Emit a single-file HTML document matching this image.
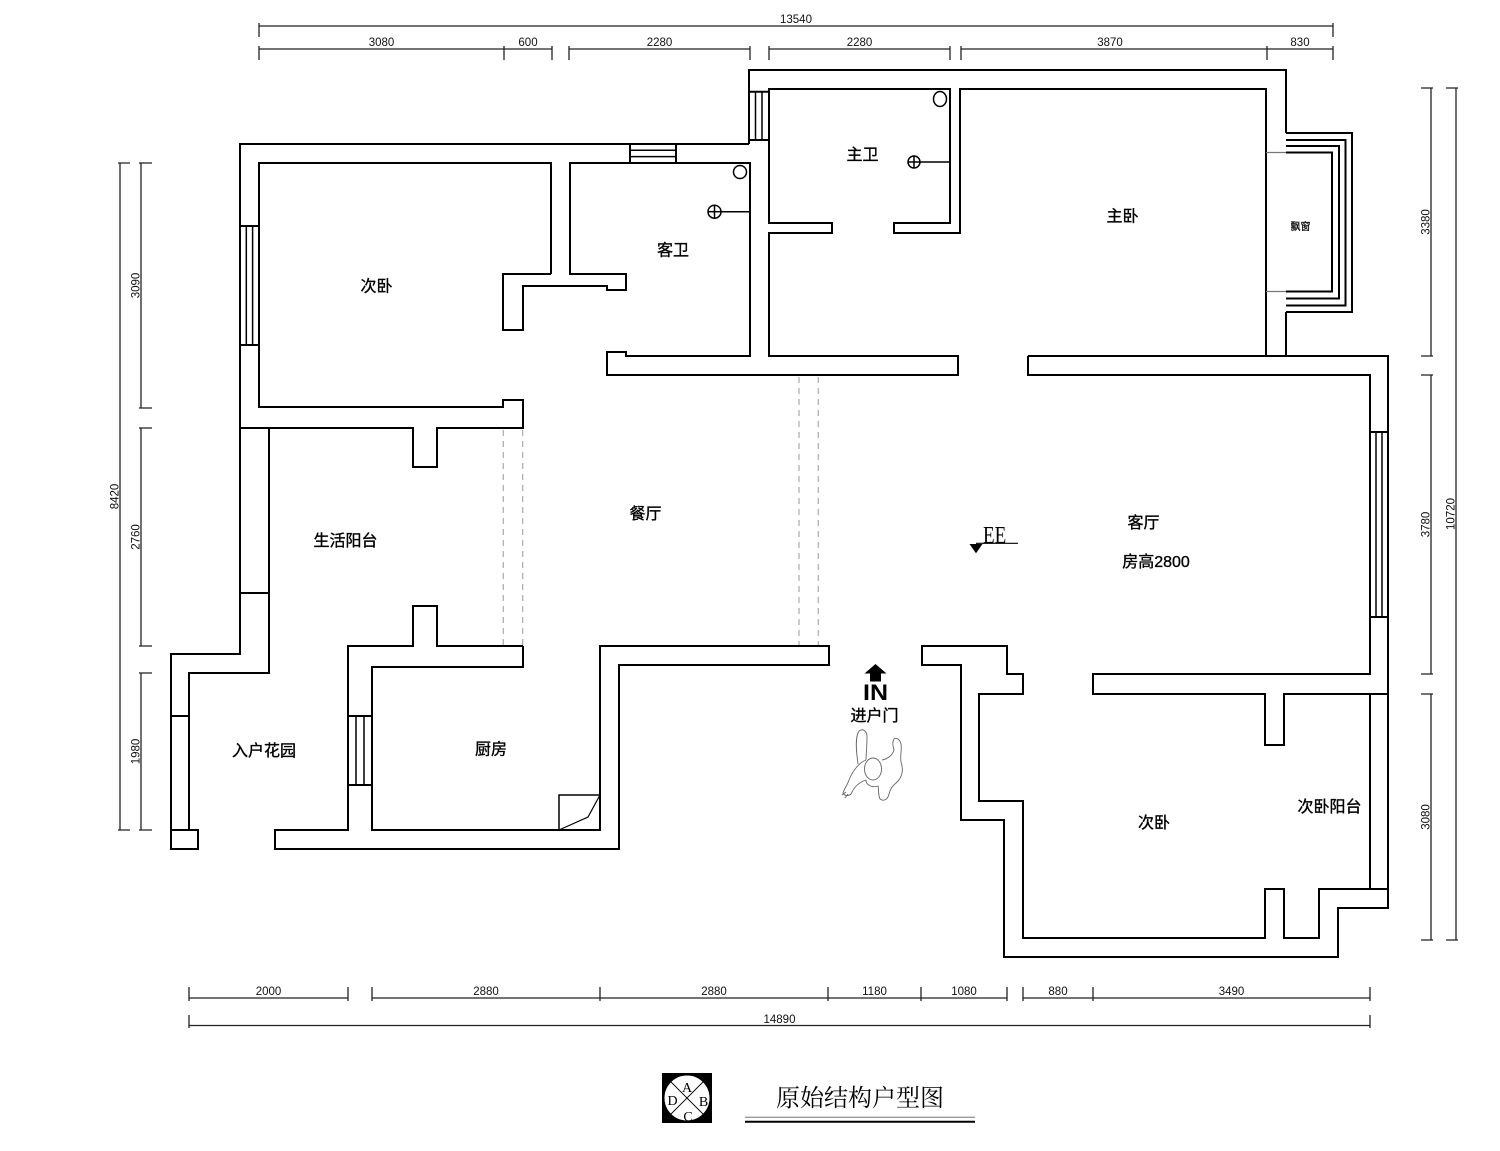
<!DOCTYPE html>
<html><head><meta charset="utf-8">
<style>
html,body{margin:0;padding:0;background:#fff;}
svg{display:block;}
.lbl{font-family:"Liberation Sans","Noto Sans CJK SC",sans-serif;font-size:16px;fill:#000;stroke:#000;stroke-width:0.35px;}
.dim{font-family:"Liberation Sans Narrow","Liberation Sans",sans-serif;font-size:11.5px;fill:#111;}
</style></head>
<body>
<svg width="1500" height="1151" viewBox="0 0 1500 1151" xmlns="http://www.w3.org/2000/svg">
<rect x="0" y="0" width="1500" height="1151" fill="#fff"/>

<!-- dashed openings -->
<g stroke="#aaa" stroke-width="1.2" stroke-dasharray="6,5" fill="none">
<line x1="503.3" y1="430" x2="503.3" y2="645"/>
<line x1="522.7" y1="430" x2="522.7" y2="645"/>
<line x1="799" y1="377" x2="799" y2="645"/>
<line x1="818.3" y1="377" x2="818.3" y2="645"/>
</g>

<!-- WALLS -->
<g fill="none" stroke="#000" stroke-width="2" stroke-linejoin="miter">
<polyline points="630,144 240,144 240,654 171,654 171,849 198,849 198,830 171,830"/>
<line x1="749" y1="144" x2="676" y2="144"/>
<rect x="630" y="144" width="46" height="19"/>
<line x1="630" y1="150.3" x2="676" y2="150.3" stroke-width="1.5"/>
<line x1="630" y1="156.6" x2="676" y2="156.6" stroke-width="1.5"/>
<polyline points="551,274 551,163 259,163 259,407 503,407 503,400 523,400 523,428 437,428 437,467 413,467 413,428 240,428"/>
<line x1="240" y1="226" x2="259" y2="226"/>
<line x1="240" y1="345" x2="259" y2="345"/>
<line x1="246.3" y1="226" x2="246.3" y2="345" stroke-width="1.5"/>
<line x1="252.6" y1="226" x2="252.6" y2="345" stroke-width="1.5"/>
<polyline points="551,274 503,274 503,330 523,330 523,286 607,286 607,290 626,290 626,274 570,274 570,163 630,163"/>
<polyline points="676,163 750,163 750,356 626,356 626,352 607,352 607,375 958,375 958,356 769,356 769,233 832,233 832,223 769,223 769,89 950,89 950,223 894,223 894,233 960,233 960,89 1266,89 1266,356"/>
<polyline points="749,144 749,70 1286,70 1286,133"/>
<line x1="1286" y1="312" x2="1286" y2="356"/>
<line x1="749" y1="91.7" x2="769" y2="91.7"/>
<line x1="749" y1="140" x2="769" y2="140"/>
<line x1="755.5" y1="91.7" x2="755.5" y2="140" stroke-width="1.5"/>
<line x1="762" y1="91.7" x2="762" y2="140" stroke-width="1.5"/>
<polyline points="1286,133 1352,133 1352,312 1286,312"/>
<polyline points="1286,140 1345.5,140 1345.5,305.5 1286,305.5"/>
<polyline points="1286,146 1339,146 1339,298.5 1286,298.5"/>
<polyline points="1286,152.5 1332,152.5 1332,291.5 1286,291.5"/>
<line x1="1266" y1="152.5" x2="1286" y2="152.5" stroke="#777" stroke-width="1.2"/>
<line x1="1266" y1="291.5" x2="1286" y2="291.5" stroke="#777" stroke-width="1.2"/>
<polyline points="1028,356 1388,356 1388,908 1338,908 1338,957 1004,957 1004,820 961,820 961,665 922,665 922,646 1007,646 1007,674 1023,674 1023,694 979,694 979,801 1023,801 1023,938 1265,938 1265,889 1284,889 1284,938 1319,938 1319,889 1388,889"/>
<polyline points="1028,356 1028,375 1370,375 1370,674 1093,674 1093,694 1265,694 1265,745 1284,745 1284,694 1388,694"/>
<line x1="1370" y1="694" x2="1370" y2="889"/>
<line x1="1370" y1="432" x2="1388" y2="432"/>
<line x1="1370" y1="617" x2="1388" y2="617"/>
<line x1="1376" y1="432" x2="1376" y2="617" stroke-width="1.5"/>
<line x1="1382" y1="432" x2="1382" y2="617" stroke-width="1.5"/>
<polyline points="269,428 269,673 189,673 189,830"/>
<line x1="240" y1="593" x2="269" y2="593"/>
<line x1="171" y1="716" x2="189" y2="716"/>
<polyline points="523,646 437,646 437,606 413,606 413,646 348,646 348,830 275,830 275,849 619,849 619,665 829,665 829,646 600,646 600,830 372,830 372,667 523,667 523,646"/>
<line x1="348" y1="716" x2="372" y2="716"/>
<line x1="348" y1="785" x2="372" y2="785"/>
<line x1="356" y1="716" x2="356" y2="785" stroke-width="1.5"/>
<line x1="364" y1="716" x2="364" y2="785" stroke-width="1.5"/>
<polyline points="559,830 559,795 600,795" stroke-width="1.5"/>
<polyline points="559,830 588,817 600,795" stroke-width="1.2"/>
</g>

<!-- fixtures -->
<g fill="none" stroke="#000" stroke-width="1.5">
<circle cx="740" cy="172" r="6.5"/>
<circle cx="714.5" cy="211.7" r="6.5"/>
<line x1="708" y1="211.7" x2="721" y2="211.7"/>
<line x1="714.5" y1="205.2" x2="714.5" y2="218.2"/>
<line x1="721" y1="211.7" x2="750" y2="211.7"/>
<ellipse cx="940" cy="99" rx="6.5" ry="7.5"/>
<circle cx="914" cy="162" r="6"/>
<line x1="908" y1="162" x2="920" y2="162"/>
<line x1="914" y1="156" x2="914" y2="168"/>
<line x1="920" y1="162" x2="950" y2="162"/>
</g>

<!-- EE marker -->
<line x1="976" y1="543.3" x2="1018" y2="543.3" stroke="#000" stroke-width="1.2"/>
<polygon points="969.5,544 982.5,544 976,553.3" fill="#000"/>
<text transform="translate(983,543) scale(1,1.28)" font-family="Liberation Serif,serif" font-size="19" fill="#000">EE</text>

<!-- IN arrow -->
<polygon points="875.5,664 886.5,673.5 881,673.5 881,681.5 870,681.5 870,673.5 864.5,673.5" fill="#000"/>
<text x="863" y="700" font-family="Liberation Sans,sans-serif" font-weight="bold" font-size="22" textLength="25" lengthAdjust="spacingAndGlyphs" fill="#000">IN</text>

<!-- person -->
<g fill="none" stroke="#666" stroke-width="0.9">
<path d="M858,764 C856,750 855,737 859,731 C863,728 867,731 867,737 C867,746 866,755 866,760"/>
<ellipse cx="873" cy="769" rx="8.5" ry="11"/>
<path d="M866,760 C860,762 853,770 849,780 C847,786 844,789 843,793 C845,797 851,796 852,792 C855,786 860,782 866,780"/>
<path d="M882,760 C887,759 892,756 894,750 C893,746 892,742 894,739 C897,737 900,740 901,744 C902,750 900,756 901,762 C904,770 902,778 896,783 C892,786 890,790 889,794 C888,799 884,802 880,799 C878,795 879,790 878,786 C872,788 866,785 866,780"/>
<path d="M846,792 L842,795 M848,794 L845,798"/>
</g>

<!-- room labels -->
<text class="lbl" x="376.5" y="291.5" text-anchor="middle">次卧</text>
<text class="lbl" x="673" y="255.5" text-anchor="middle">客卫</text>
<text class="lbl" x="862.5" y="160" text-anchor="middle">主卫</text>
<text class="lbl" x="1122.5" y="221.5" text-anchor="middle">主卧</text>
<text class="lbl" x="1300.5" y="230" text-anchor="middle" style="font-size:10px;stroke-width:0.2px">飘窗</text>
<text class="lbl" x="345.5" y="546" text-anchor="middle">生活阳台</text>
<text class="lbl" x="645.5" y="519" text-anchor="middle">餐厅</text>
<text class="lbl" x="1143.5" y="528" text-anchor="middle">客厅</text>
<text class="lbl" x="1156" y="567" text-anchor="middle">房高2800</text>
<text class="lbl" x="264" y="756" text-anchor="middle">入户花园</text>
<text class="lbl" x="491" y="754.5" text-anchor="middle">厨房</text>
<text class="lbl" x="1154" y="828" text-anchor="middle">次卧</text>
<text class="lbl" x="1329.5" y="812" text-anchor="middle">次卧阳台</text>
<text class="lbl" x="874.5" y="721" text-anchor="middle">进户门</text>

<!-- DIMENSIONS -->
<g stroke="#222" stroke-width="1.3" fill="none">
<line x1="259" y1="26" x2="1333" y2="26"/>
<line x1="259" y1="23" x2="259" y2="37"/>
<line x1="1333" y1="23" x2="1333" y2="37"/>
<line x1="259" y1="49" x2="552" y2="49"/>
<line x1="569" y1="49" x2="750" y2="49"/>
<line x1="769" y1="49" x2="950" y2="49"/>
<line x1="961" y1="49" x2="1333" y2="49"/>
<path d="M259,46V60 M504,46V60 M552,46V60 M569,46V60 M750,46V60 M769,46V60 M950,46V60 M961,46V60 M1267,46V60 M1333,46V60"/>
<line x1="189" y1="998" x2="348" y2="998"/>
<line x1="372" y1="998" x2="1007" y2="998"/>
<line x1="1023" y1="998" x2="1370" y2="998"/>
<path d="M189,987V1001 M348,987V1001 M372,987V1001 M600,987V1001 M828,987V1001 M921,987V1001 M1007,987V1001 M1023,987V1001 M1093,987V1001 M1370,987V1001"/>
<line x1="189" y1="1025.5" x2="1370" y2="1025.5"/>
<path d="M189,1015V1028 M1370,1015V1028"/>
<line x1="120" y1="163" x2="120" y2="830"/>
<path d="M118,163H130 M118,830H130"/>
<line x1="141" y1="163" x2="141" y2="408"/>
<line x1="141" y1="428" x2="141" y2="646"/>
<line x1="141" y1="673" x2="141" y2="830"/>
<path d="M139,163H152 M139,408H152 M139,428H152 M139,646H152 M139,673H152 M139,830H152"/>
<line x1="1431" y1="88" x2="1431" y2="356"/>
<line x1="1431" y1="375" x2="1431" y2="674"/>
<line x1="1431" y1="694" x2="1431" y2="940"/>
<path d="M1421,88H1433 M1421,356H1433 M1421,375H1433 M1421,674H1433 M1421,694H1433 M1421,940H1433"/>
<line x1="1456" y1="88" x2="1456" y2="940"/>
<path d="M1446,88H1458 M1446,940H1458"/>
</g>

<g class="dim" text-anchor="middle">
<text class="dim" x="796" y="23">13540</text>
<text class="dim" x="381.5" y="46">3080</text>
<text class="dim" x="528" y="46">600</text>
<text class="dim" x="659.5" y="46">2280</text>
<text class="dim" x="859.5" y="46">2280</text>
<text class="dim" x="1110" y="46">3870</text>
<text class="dim" x="1300" y="46">830</text>
<text class="dim" x="268.5" y="995">2000</text>
<text class="dim" x="486" y="995">2880</text>
<text class="dim" x="714" y="995">2880</text>
<text class="dim" x="874.5" y="995">1180</text>
<text class="dim" x="964" y="995">1080</text>
<text class="dim" x="1058" y="995">880</text>
<text class="dim" x="1231.5" y="995">3490</text>
<text class="dim" x="779.5" y="1023">14890</text>
<text class="dim" transform="translate(118.5,496.5) rotate(-90)">8420</text>
<text class="dim" transform="translate(139.5,285.5) rotate(-90)">3090</text>
<text class="dim" transform="translate(139.5,537) rotate(-90)">2760</text>
<text class="dim" transform="translate(139.5,751.5) rotate(-90)">1980</text>
<text class="dim" transform="translate(1429.5,222) rotate(-90)">3380</text>
<text class="dim" transform="translate(1429.5,524.5) rotate(-90)">3780</text>
<text class="dim" transform="translate(1429.5,817) rotate(-90)">3080</text>
<text class="dim" transform="translate(1454.5,514) rotate(-90)">10720</text>
</g>

<!-- TITLE BLOCK -->
<rect x="662" y="1073" width="50" height="50" fill="#000"/>
<circle cx="687" cy="1098" r="23" fill="#fff" stroke="#000" stroke-width="1"/>
<line x1="670.7" y1="1081.7" x2="703.3" y2="1114.3" stroke="#000" stroke-width="1"/>
<line x1="703.3" y1="1081.7" x2="670.7" y2="1114.3" stroke="#000" stroke-width="1"/>
<g font-family="Liberation Serif,serif" font-size="14" fill="#000" text-anchor="middle">
<text x="687" y="1092">A</text>
<text x="703.5" y="1106">B</text>
<text x="688" y="1121">C</text>
<text x="672.5" y="1105">D</text>
</g>
<text x="860" y="1106" text-anchor="middle" font-family="Liberation Serif,'Noto Serif CJK SC',serif" font-size="24" fill="#000">原始结构户型图</text>
<line x1="745" y1="1117.3" x2="975" y2="1117.3" stroke="#999" stroke-width="1.3"/>
<line x1="745" y1="1121.8" x2="975" y2="1121.8" stroke="#000" stroke-width="2"/>
</svg>
</body></html>
